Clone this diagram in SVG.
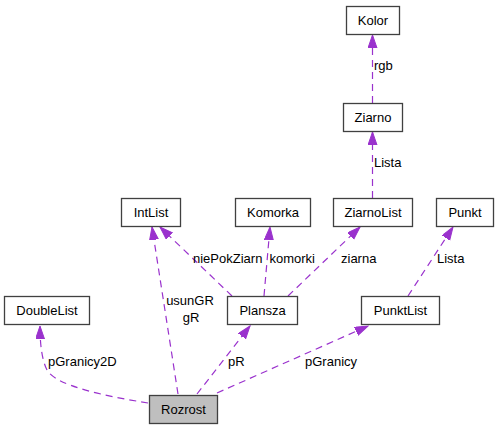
<svg xmlns="http://www.w3.org/2000/svg" width="497" height="429" viewBox="0 0 497 429">
<style>
  .node rect { fill: #ffffff; stroke: #404040; stroke-width: 1.3; }
  .node.main rect { fill: #bfbfbf; }
  .node text { font-family: "Liberation Sans", Arial, sans-serif; font-size: 13px; fill: #000000; text-anchor: middle; }
  .edge path { fill: none; stroke: #9a32cd; stroke-width: 1.2; stroke-dasharray: 7,5; }
  .lbl { font-family: "Liberation Sans", Arial, sans-serif; font-size: 13px; fill: #000000; }
</style>
<defs>
  <marker id="arr" markerUnits="userSpaceOnUse" markerWidth="14" markerHeight="10" refX="13" refY="4.5" orient="auto">
    <path d="M0,0 L13,4.5 L0,9 z" fill="#9a32cd" stroke="#9a32cd" stroke-width="1"/>
  </marker>
</defs>
<rect width="497" height="429" fill="#ffffff"/>
<g id="edges" class="edge">
  <path d="M372.5,103 L372.5,35" marker-end="url(#arr)"/>
  <path d="M372.5,198 L372.5,132" marker-end="url(#arr)"/>
  <path d="M232,296 L160,227" marker-end="url(#arr)"/>
  <path d="M264,296 L270,227" marker-end="url(#arr)"/>
  <path d="M288,296 L360,227" marker-end="url(#arr)"/>
  <path d="M408,296 L453,227" marker-end="url(#arr)"/>
  <path d="M148,403 C105,396 56,386 47,370 C42,360 40,345 40,326" marker-end="url(#arr)"/>
  <path d="M178,394 L152,227" marker-end="url(#arr)"/>
  <path d="M197,394 L250,326" marker-end="url(#arr)"/>
  <path d="M217,393 L368,326" marker-end="url(#arr)"/>
</g>
<g id="labels">
  <text class="lbl" x="374" y="70">rgb</text>
  <text class="lbl" x="374" y="167">Lista</text>
  <text class="lbl" x="193" y="263">niePokZiarn</text>
  <text class="lbl" x="269.5" y="263">komorki</text>
  <text class="lbl" x="341" y="263">ziarna</text>
  <text class="lbl" x="437" y="263">Lista</text>
  <text class="lbl" x="190" y="305" text-anchor="middle">usunGR</text>
  <text class="lbl" x="191" y="322" text-anchor="middle">gR</text>
  <text class="lbl" x="48" y="366">pGranicy2D</text>
  <text class="lbl" x="228" y="366">pR</text>
  <text class="lbl" x="305" y="366">pGranicy</text>
</g>
<g id="Kolor" class="node"><rect x="346.5" y="6.5" width="53" height="28"/><text x="373" y="25">Kolor</text></g>
<g id="Ziarno" class="node"><rect x="343.5" y="103.5" width="59" height="28"/><text x="373" y="122">Ziarno</text></g>
<g id="IntList" class="node"><rect x="121.5" y="198.5" width="59" height="28"/><text x="151" y="217">IntList</text></g>
<g id="Komorka" class="node"><rect x="235.5" y="198.5" width="75" height="28"/><text x="273" y="217">Komorka</text></g>
<g id="ZiarnoList" class="node"><rect x="333.5" y="198.5" width="79" height="28"/><text x="373" y="217">ZiarnoList</text></g>
<g id="Punkt" class="node"><rect x="436.5" y="198.5" width="57" height="28"/><text x="465" y="217">Punkt</text></g>
<g id="DoubleList" class="node"><rect x="4.5" y="296.5" width="85" height="28"/><text x="47" y="315">DoubleList</text></g>
<g id="Plansza" class="node"><rect x="227.5" y="296.5" width="70" height="28"/><text x="262.5" y="315">Plansza</text></g>
<g id="PunktList" class="node"><rect x="361.5" y="296.5" width="78" height="28"/><text x="400.5" y="315">PunktList</text></g>
<g id="Rozrost" class="node main"><rect x="149.5" y="395.5" width="68" height="28"/><text x="183.5" y="414">Rozrost</text></g>
</svg>
